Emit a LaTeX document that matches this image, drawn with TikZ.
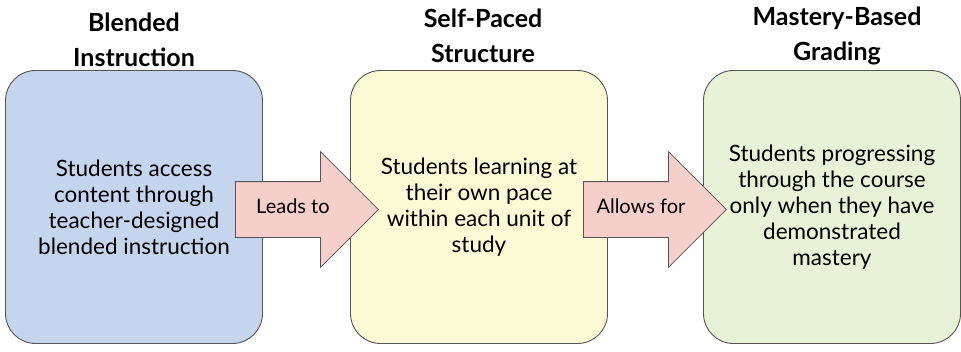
\documentclass[tikz,border=0pt]{standalone}
\usepackage{fontspec}
\setmainfont{Lato}
\usetikzlibrary{shapes.arrows}
\definecolor{blendblue}{RGB}{197,213,238}
\definecolor{paceyellow}{RGB}{252,250,212}
\definecolor{gradegreen}{RGB}{231,243,215}
\definecolor{arrowpink}{RGB}{247,207,202}
\definecolor{edgegray}{RGB}{85,85,85}
\begin{document}
\begin{tikzpicture}[x=1pt,y=-1pt,
        box/.style={draw=edgegray, line width=0.9pt, rounded corners=30pt,
            minimum width=257pt, minimum height=273pt, align=center,
            font=\fontsize{22.5}{26}\selectfont},
        title/.style={align=center, font=\bfseries\fontsize{25}{35}\selectfont},
        bigarrow/.style={single arrow, draw=edgegray, line width=0.8pt, fill=arrowpink,
            single arrow head extend=30pt, minimum height=143pt, inner xsep=4pt,
            inner ysep=19.5pt, text height=12pt, text depth=4pt, anchor=tail,
            font=\fontsize{20}{22}\selectfont}]
        \useasboundingbox (0,0) rectangle (961,351);
        \fill[white] (0,0) rectangle (961,351);
        % the three stages
        \node[box, fill=blendblue] (blend) at (134,207)
        {Students access\\content through\\teacher-designed\\blended instruction};
        \node[box, fill=paceyellow] (pace) at (479,207)
        {Students learning at\\their own pace\\within each unit of\\study};
        \node[box, fill=gradegreen] (grade) at (832,207)
        {Students progressing\\through the course\\only when they have\\demonstrated\\mastery};
        \node[title] (blendtitle) at (134,40) {Blended\\Instruction};
        \node[title] (pacetitle) at (483,36) {Self-Paced\\Structure};
        \node[title] (gradetitle) at (837,36) {Mastery-Based\\Grading};
        % arrows between the stages
        \node[bigarrow] (leads) at (235,209.5) {Leads to};
        \node[bigarrow] (allows) at (583,209.5) {Allows for};
    \end{tikzpicture}
\end{document}
